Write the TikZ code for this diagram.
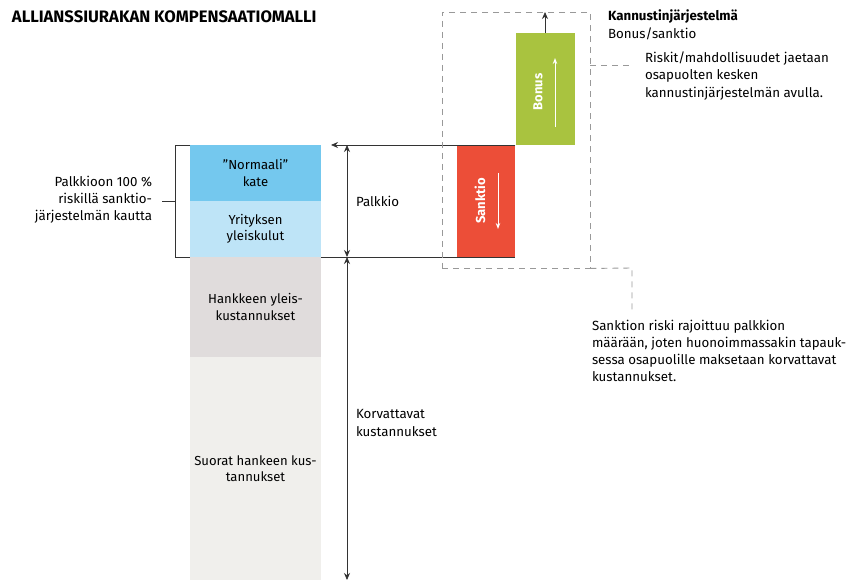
\documentclass[tikz,border=0pt]{standalone}
\usepackage{fontspec}
\setmainfont{Fira Sans}
\usetikzlibrary{arrows.meta}
\definecolor{kate}{HTML}{74C8EE}
\definecolor{ylei}{HTML}{BEE4F7}
\definecolor{hank}{HTML}{E0DCDC}
\definecolor{suor}{HTML}{F0EFEC}
\definecolor{sank}{HTML}{EC4E38}
\definecolor{bon}{HTML}{A9C33F}
\definecolor{ln}{HTML}{333333}
\definecolor{dsh}{HTML}{999999}
\tikzset{
  blk/.style={draw=none, inner sep=0pt, outer sep=0pt, align=center, font=\fontsize{13.1}{16.5}\selectfont},
  lbl/.style={inner sep=0pt, outer sep=0pt, font=\fontsize{13.3}{17.2}\selectfont},
  ln/.style={draw=ln, line width=0.8pt},
  arr/.style={ln, -{Stealth[length=7pt,width=6pt]}},
  darr/.style={ln, {Stealth[length=7pt,width=6pt]}-{Stealth[length=7pt,width=6pt]}},
  dsh/.style={draw=dsh, line width=0.9pt, dash pattern=on 6pt off 5pt},
  warr/.style={draw=white, line width=1pt, -{Stealth[length=6pt,width=4.5pt]}},
  rot/.style={inner sep=0pt, text=white, rotate=90, font=\fontsize{13}{15}\selectfont\bfseries}
}
\begin{document}
\begin{tikzpicture}[x=1pt,y=-1pt]
\useasboundingbox (0,0) rectangle (849,580);
\fill[white] (0,0) rectangle (849,580);
% title
\node[lbl, anchor=west, font=\fontsize{16.6}{19}\selectfont\bfseries] (title) at (12,17) {ALLIANSSIURAKAN KOMPENSAATIOMALLI};
% column
\node[blk, fill=kate, minimum width=131pt, minimum height=56pt] (kate) at (255.5,173) {"Normaali"\\kate};
\node[blk, fill=ylei, minimum width=131pt, minimum height=56pt] (ylei) at (255.5,229) {Yrityksen\\yleiskulut};
\node[blk, fill=hank, minimum width=131pt, minimum height=100pt] (hank) at (255.5,307) {Hankkeen yleis-\\kustannukset};
\node[blk, fill=suor, minimum width=131pt, minimum height=223pt] (suor) at (255.5,468.5) {Suorat hankeen kus-\\tannukset};
% bracket
\coordinate (bt) at (175,145);
\coordinate (bb) at (175,257);
\coordinate (bm) at (175,201);
\coordinate (bl) at (162,201);
\draw[ln] (kate.north west) -- (bt) -- (bb) -- (ylei.south west);
\draw[ln] (bm) -- (bl);
\node[lbl, anchor=east, align=right] (brtext) at (152,200) {Palkkioon 100 \%\\riskillä sanktio-\\järjestelmän kautta};
% sanktio, bonus
\node[blk, fill=sank, minimum width=58pt, minimum height=112pt] (sank) at (486,201) {};
\node[blk, fill=bon, minimum width=59pt, minimum height=112pt] (bonus) at (545.5,89) {};
\node[rot] (sanktxt) at (480,201) {Sanktio};
\node[rot] (bontxt) at (538,92) {Bonus};
\coordinate (sa1) at (498,173);
\coordinate (sa2) at (498,229);
\draw[warr] (sa1) -- (sa2);
\coordinate (ba1) at (555,127);
\coordinate (ba2) at (555,58);
\draw[warr] (ba1) -- (ba2);
\coordinate (btop) at (545,12);
\draw[arr] (bonus.north -| btop) -- (btop);
% horizontal lines
\coordinate (hl) at (331,145);
\draw[arr] (sank.north east) -- (hl);
\draw[ln] (ylei.south east) -- (sank.south east);
% vertical arrows
\coordinate (v1) at (347,145);
\coordinate (v2) at (347,257);
\coordinate (v3) at (347,580);
\draw[darr] (v1) -- (v2);
\draw[darr] (v2) -- (v3);
\node[lbl, anchor=west] (palk) at (356,201) {Palkkio};
\node[lbl, anchor=west, align=left] (korv) at (356,423) {Korvattavat\\kustannukset};
% dashed rect
\node[draw=dsh, line width=0.9pt, dash pattern=on 6pt off 5pt, minimum width=148pt, minimum height=256pt, inner sep=0pt] (drect) at (516,140) {};
\coordinate (d1) at (634,65);
\draw[dsh] (drect.east |- d1) -- (d1);
\coordinate (d2) at (632,268);
\coordinate (d3) at (632,312);
\draw[dsh] (drect.south east) -- (d2) -- (d3);
% texts right
\node[lbl, anchor=west, font=\fontsize{13.3}{17}\selectfont\bfseries] (kan) at (608,17) {Kannustinjärjestelmä};
\node[lbl, anchor=west] (bs) at (608,34) {Bonus/sanktio};
\node[lbl, anchor=north west, align=left] (risk) at (645,52) {Riskit/mahdollisuudet jaetaan\\osapuolten kesken\\kannustinjärjestelmän avulla.};
\node[lbl, anchor=north west, align=left] (sriski) at (592,320) {Sanktion riski rajoittuu palkkion\\määrään, joten huonoimmassakin tapauk-\\sessa osapuolille maksetaan korvattavat\\kustannukset.};
\end{tikzpicture}
\end{document}
